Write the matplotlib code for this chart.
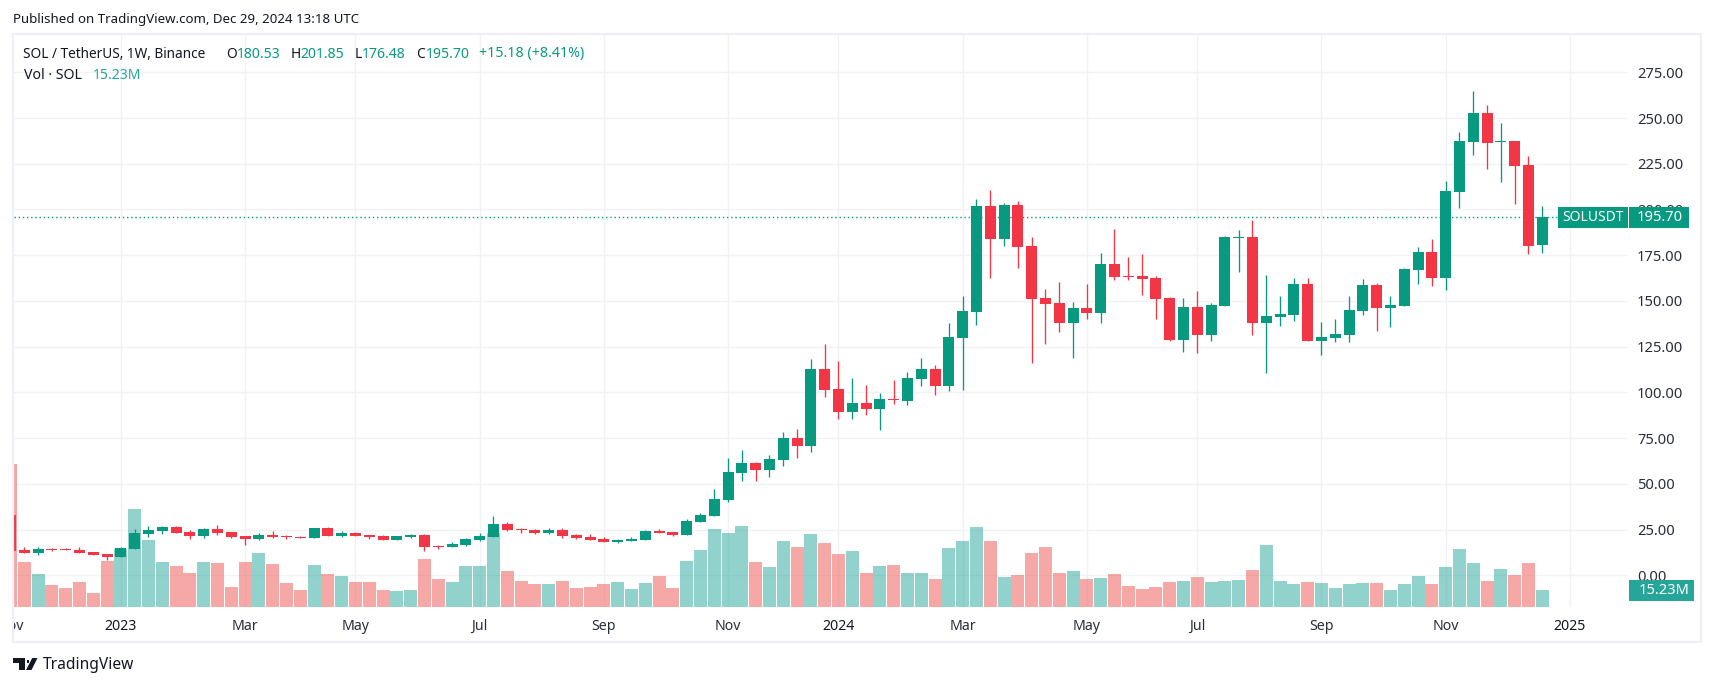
import matplotlib
matplotlib.use("Agg")
import matplotlib.pyplot as plt
import numpy as np
from matplotlib.patches import Rectangle, Polygon

plt.rcParams['font.family'] = ['Noto Sans', 'DejaVu Sans']

# ---- data (week index -1 is the partly visible first bar) ----
opens = [33.0,
    13.8,12.2,14.4,14.4,13.8,12.7,11.6,10.0,14.4,22.6,
    24.2,26.4,23.7,21.5,25.3,23.7,21.5,19.8,22.0,21.5,
    21.0,20.4,25.8,21.5,23.1,22.0,21.5,19.3,21.0,22.0,
    16.0,15.5,16.5,19.3,20.9,28.0,25.3,24.8,23.1,24.8,
    22.0,20.9,19.8,18.2,18.7,19.3,24.2,23.7,22.0,29.1,
    32.4,41.2,55.9,61.4,57.6,63.0,75.0,70.7,112.8,101.8,
    89.3,94.2,90.9,96.4,95.3,107.3,112.8,103.5,129.7,143.9,
    201.9,183.9,202.4,180.0,151.6,148.9,137.9,146.1,143.4,170.2,
    163.6,163.6,162.5,151.6,128.6,146.7,131.4,147.2,184.4,184.9,
    137.9,141.2,142.3,159.3,128.1,129.7,131.4,144.5,158.7,146.1,
    147.2,166.9,176.8,162.5,209.5,236.9,252.8,236.9,237.4,224.3,180.53]
closes = [13.3,
    12.2,14.4,13.8,13.8,12.2,11.1,10.0,14.9,23.1,24.8,
    26.4,23.1,21.5,25.3,23.1,21.0,19.8,22.0,21.0,21.0,
    20.4,25.8,21.5,23.1,21.5,21.0,19.3,21.5,22.0,15.5,
    15.5,17.1,19.8,21.5,28.0,24.8,24.8,23.1,24.8,21.5,
    20.4,19.3,18.2,19.3,19.8,24.2,23.1,22.0,29.7,33.0,
    41.7,56.5,61.4,57.6,63.6,75.0,70.7,112.8,101.3,89.3,
    94.2,90.9,96.4,95.8,107.9,112.8,103.5,130.3,144.5,201.9,
    183.9,202.4,179.5,151.0,148.3,137.9,146.1,143.4,170.2,163.1,
    163.1,162.0,151.0,128.6,146.7,131.4,147.8,184.9,184.9,137.9,
    141.8,142.9,159.3,128.1,130.3,131.9,145.0,158.7,146.1,147.8,
    167.5,176.8,162.5,210.1,237.4,252.8,236.4,237.4,223.8,180.0,195.70]
highs = [33.0,
    15.5,15.5,14.9,14.9,15.5,12.7,11.6,15.5,25.3,27.0,
    27.0,27.0,24.8,25.8,27.5,23.7,21.5,23.1,24.2,22.0,
    21.5,25.8,26.4,24.2,23.7,22.0,22.0,21.5,22.6,22.6,
    16.5,18.2,20.4,23.1,32.4,29.1,25.9,25.3,25.9,25.9,
    22.6,22.6,20.9,19.8,20.9,24.8,25.3,23.7,30.8,34.1,
    47.2,64.1,68.5,61.9,65.8,78.3,80.0,118.2,126.4,117.2,
    107.9,104.0,99.7,106.8,111.1,118.8,115.0,137.9,152.7,205.7,
    210.7,203.5,204.6,184.9,156.5,160.3,149.4,159.3,176.2,189.3,
    174.0,175.6,163.6,152.1,151.6,155.4,148.9,185.5,188.8,194.2,
    164.2,152.7,162.5,162.5,138.5,140.1,152.7,162.0,159.8,152.7,
    168.0,179.5,183.9,215.6,242.4,264.8,257.1,247.3,237.4,229.2,201.85]
lows = [13.3,
    12.2,11.1,13.3,13.8,12.2,11.1,8.4,10.0,14.4,21.0,
    22.6,23.1,19.8,20.4,22.0,20.4,16.5,19.3,20.4,19.8,
    20.4,20.4,21.5,21.0,21.5,19.8,19.3,19.3,20.4,13.3,
    14.4,15.5,16.0,18.7,20.9,24.2,23.1,22.6,22.6,20.4,
    19.8,19.3,18.2,17.6,18.7,19.3,23.1,21.5,22.0,29.1,
    32.4,40.1,51.5,51.5,53.7,59.7,64.1,67.4,97.5,85.4,
    85.4,87.6,79.4,93.6,93.1,103.5,98.6,100.8,101.5,136.8,
    162.5,180.0,168.0,116.1,126.4,133.0,118.8,140.1,137.9,161.4,
    161.4,153.2,140.1,128.1,122.1,121.5,128.1,147.2,165.8,131.4,
    110.6,136.3,139.0,128.1,120.4,127.5,127.5,142.3,133.6,135.7,
    147.2,159.3,158.2,156.2,200.8,229.8,222.1,215.0,203.0,175.7,176.48]
volumes = [128.1,
    40.3,29.6,19.7,17.0,22.4,12.5,41.2,52.0,87.8,60.0,
    40.3,36.7,30.5,40.3,39.4,17.9,40.3,48.4,38.5,21.5,
    15.2,37.6,29.6,27.8,22.4,22.4,15.2,14.3,15.2,43.0,
    25.1,22.4,36.7,36.7,66.3,32.3,23.3,20.6,20.6,23.3,
    17.0,17.9,20.6,22.4,16.1,21.5,27.8,17.0,41.2,51.1,
    69.9,66.3,72.6,40.3,35.8,59.1,53.8,65.4,57.4,47.5,
    50.2,30.5,36.7,37.6,30.5,30.5,25.1,52.9,59.1,71.7,
    59.1,26.9,28.7,48.4,53.8,30.5,32.3,25.1,26.0,29.6,
    18.8,16.1,17.9,22.4,23.3,26.9,22.4,23.3,24.2,33.2,
    55.6,23.3,20.6,22.4,21.5,17.0,20.6,21.5,21.5,15.2,
    20.6,27.8,20.6,35.8,52.0,39.4,23.3,34.0,28.7,39.4,15.23]

price_ticks = [0, 25, 50, 75, 100, 125, 150, 175, 200, 225, 250, 275]
time_ticks = [7, 16, 24, 33, 42, 51, 59, 68, 77, 85, 94, 103, 112]
time_labels = ['2023', 'Mar', 'May', 'Jul', 'Sep', 'Nov', '2024', 'Mar', 'May', 'Jul', 'Sep', 'Nov', '2025']
last_close = 195.70
last_volume = 15.23

# ---- styling ----
W, H = 1713, 686
UP, DOWN = '#089981', '#F23645'
VUP, VDOWN = '#26a69a', '#ef5350'
GRID = '#f1f2f5'
BORDER = '#eff0f6'
TEXT = '#131722'
LABEL = 9.9
DIGIT = 10.6
HEAD_DIGIT = 10.1

def fx(x):
    return x / W
def fy(y):
    return 1 - y / H
def txt(x, y, s, color=TEXT, size=LABEL, ha='left', **kw):
    return fig.text(fx(x), fy(y), s, color=color, fontsize=size, ha=ha, va='center', zorder=8, **kw)

fig = plt.figure(figsize=(W / 100, H / 100), dpi=100, facecolor='white')

L, R, T, B = 13.5, 1628, 34, 607
rect = [fx(L), fy(B), (R - L) / W, (B - T) / H]
xlim = ((L - 24.3) / 13.8, (R - 24.3) / 13.8)
ylim = ((575.3 - B) / 1.8291, (575.3 - T) / 1.8291)
vol_top = (B - T) * 0.896

x = np.arange(-1, 111)
o, c = np.array(opens), np.array(closes)
hi, lo = np.array(highs), np.array(lows)
vol = np.array(volumes)
up = c >= o

# grid + axis labels (bottom layer)
ax = fig.add_axes(rect, zorder=1, facecolor='white')
ax.set_xlim(xlim); ax.set_ylim(ylim)
ax.set_xticks(time_ticks); ax.set_xticklabels(time_labels)
ax.set_yticks(price_ticks)
ax.set_yticklabels([f'{v:.2f}' for v in price_ticks])
ax.yaxis.tick_right()
ax.grid(True, color=GRID, lw=1.0)
ax.tick_params(axis='x', length=0, colors='#2a2e39', labelsize=10.2, pad=(618 - B) * 0.72 + 0.7)
ax.tick_params(axis='y', length=0, colors='#2a2e39', labelsize=DIGIT, pad=(1637 - R) * 0.72)
for lab, s in zip(ax.get_xticklabels(), time_labels):
    if s.isdigit():
        lab.set_fontweight('bold')
        lab.set_color(TEXT)
for s in ax.spines.values():
    s.set_visible(False)

# volume layer
axv = fig.add_axes(rect, zorder=2)
axv.patch.set_alpha(0)
axv.set_xlim(xlim); axv.set_ylim(0, vol_top)
axv.bar(x, vol, width=0.94, color=[VUP if u else VDOWN for u in up], alpha=0.5, lw=0)
axv.axis('off')

# candle layer
axc = fig.add_axes(rect, zorder=3)
axc.patch.set_alpha(0)
axc.set_xlim(xlim); axc.set_ylim(ylim)
axc.axhline(last_close, color=UP, lw=1.0, ls=(0, (1, 2)), zorder=1)
colors = [UP if u else DOWN for u in up]
axc.vlines(x, lo, hi, colors=colors, lw=0.95, zorder=2)
axc.bar(x, np.abs(c - o), bottom=np.minimum(o, c), width=0.8, color=colors, lw=0, zorder=3)
axc.axis('off')

# pane border
fig.add_artist(Rectangle((fx(12.5), fy(642)), (1700.5 - 12.5) / W, (642 - 33.5) / H, fill=False,
                         ec=BORDER, lw=1.6, transform=fig.transFigure, zorder=4))

# clipped first time label
t = txt(11, 627, 'Nov', color='#2a2e39', size=10.2, ha='center')
t.set_clip_path(Rectangle((14, 0), 200, H, transform=None))
t.set_clip_on(True)

# last-price tags
def tag(x0, x1, y0, y1, color):
    fig.add_artist(Rectangle((fx(x0), fy(y1)), (x1 - x0) / W, (y1 - y0) / H, fc=color, ec='none',
                             transform=fig.transFigure, zorder=7))
tag(1558, 1627.7, 207.3, 227.7, UP)
tag(1629, 1689.3, 207.3, 227.7, UP)
tag(1629, 1694, 580, 601, VUP)
txt(1592.8, 217.5, 'SOLUSDT', color='white', ha='center', size=10)
txt(1637, 217.5, f'{last_close:.2f}', color='white', size=DIGIT)
txt(1639, 590.5, f'{last_volume:.2f}M', color='white', size=DIGIT)

# header
txt(13, 19, 'Published on TradingView.com, Dec 29, 2024 13:18 UTC', size=9.55)
txt(23, 54, 'SOL / TetherUS, 1W, Binance', size=9.8)
for xa, a, xb, b in [(226, 'O', 237, '180.53'), (291, 'H', 300, '201.85'),
                     (355, 'L', 362, '176.48'), (416, 'C', 425.5, '195.70')]:
    txt(xa, 54, a)
    txt(xb, 54, b, color=UP, size=HEAD_DIGIT)
txt(479, 54, '+15.18 (+8.41%)', color=UP, size=10.2)
txt(23.5, 75.5, 'Vol \u00b7 SOL', size=10.2)
txt(92.5, 75.5, '15.23M', color=VUP, size=HEAD_DIGIT)

# footer logo + text
LOGO = '#131722'
tr = fig.transFigure
for pts in [[(13, 658), (25, 658), (25, 670), (19, 670), (19, 663), (13, 663)],
            [(32.2, 658), (37.5, 658), (31.5, 670), (26, 670)]]:
    fig.add_artist(Polygon([(fx(a), fy(b)) for a, b in pts], closed=True, fc=LOGO, ec='none',
                           transform=tr, zorder=8))
fig.add_artist(Rectangle((fx(26.5), fy(663)), 2.8 / W, 2.8 / H, fc=LOGO, ec='none', transform=tr, zorder=8))
txt(42.5, 665, 'TradingView', size=11.2)

fig.savefig('out.png', dpi=100, facecolor='white')
